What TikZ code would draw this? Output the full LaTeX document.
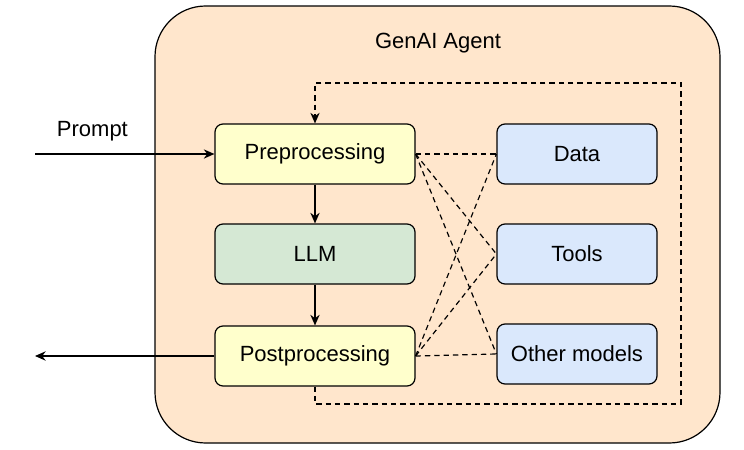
\documentclass[tikz,border=0pt]{standalone}
\usepackage{fontspec}
\setmainfont{Liberation Sans}
\usetikzlibrary{arrows.meta}
\definecolor{peach}{HTML}{FFE6CC}
\definecolor{lyellow}{HTML}{FFFFCC}
\definecolor{lgreen}{HTML}{D5E8D4}
\definecolor{lblue}{HTML}{DAE8FC}
\begin{document}
\begin{tikzpicture}[x=0.75pt,y=-0.75pt,font=\fontsize{16.5}{19}\selectfont,
  box/.style={draw,rounded corners=6pt,minimum width=150pt,minimum height=45pt,line width=0.9pt},
  side/.style={draw,rounded corners=6pt,minimum width=120pt,minimum height=45pt,line width=0.9pt,fill=lblue},
  arr/.style={-{Stealth[length=8pt,width=7pt]},line width=1pt},
  dashline/.style={dash pattern=on 4pt off 3pt,line width=0.9pt}]
\useasboundingbox (0,0) rectangle (744,450);
\draw[fill=peach,rounded corners=38pt,line width=0.9pt] (155,6) rectangle (720,443);
\node (title) at (438,43) {GenAI Agent};

\node[box,fill=lyellow] (pre) at (315,154) {Preprocessing};
\node[box,fill=lgreen] (llm) at (315,254) {LLM};
\node[box,fill=lyellow] (post) at (315,356) {Postprocessing};
\node[side] (data) at (577,154) {Data};
\node[side] (tools) at (577,254) {Tools};
\node[side] (other) at (577,354) {Other models};

\coordinate (in) at (35,154);
\coordinate (out) at (35,356);
\draw[arr] (in) -- node[above=6pt,pos=0.32] (prompt) {Prompt} (pre);
\draw[arr] (post) -- (out);
\draw[arr] (pre) -- (llm);
\draw[arr] (llm) -- (post);

\draw[dashline,-{Stealth[length=8pt,width=7pt]}] (post.south) -- (315,404) -- (681,404) -- (681,83) -- (315,83) -- (pre.north);
\foreach \s in {pre,post}
  \foreach \t in {data,tools,other}
    \draw[dashline] (\s.east) -- (\t.west);
\end{tikzpicture}
\end{document}
